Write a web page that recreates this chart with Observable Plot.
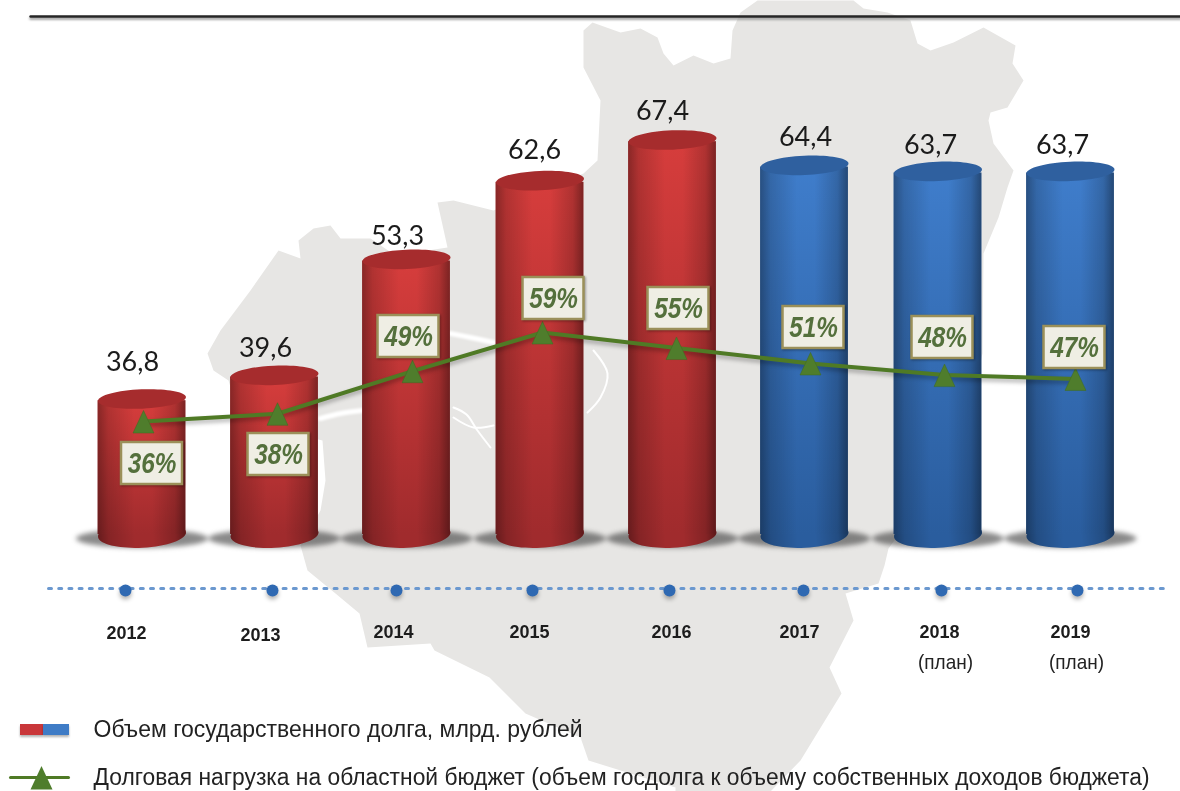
<!DOCTYPE html>
<html><head><meta charset="utf-8">
<script src="https://cdn.jsdelivr.net/npm/d3@7"></script>
<script src="https://cdn.jsdelivr.net/npm/@observablehq/plot@0.6"></script>
<style>
html,body{margin:0;padding:0;background:#fff;overflow:hidden}
svg{display:block;filter:blur(0.45px)}
</style></head><body>
<div id="chart"></div>
<script>
// ---- values
const years = [2012,2013,2014,2015,2016,2017,2018,2019];
const debt = [36.8,39.6,53.3,62.6,67.4,64.4,63.7,63.7];
const debtLabels = ["36,8","39,6","53,3","62,6","67,4","64,4","63,7","63,7"];
const burden = [36,38,49,59,55,51,48,47];
const yearLabels = ["2012","2013","2014","2015","2016","2017","2018","2019"];
const planLabel = "(план)";
const legendDebt = "Объем государственного долга, млрд. рублей";
const legendBurden = "Долговая нагрузка на областной бюджет (объем госдолга к объему собственных доходов бюджета)";

// ---- layout anchors, measured on the picture in pixels, converted to data units below
const barCenters = [141.5,274,406,539.5,672,804,937.5,1070];
const debtLabelAnchor = [[132,362],[265,348],[397,236],[534,150],[662,111],[805,137],[930,145],[1062,145]];
const lineXs = [143,277,412,542,676,810,944,1075];
const boxCenters = [[151.5,463],[278,454],[408,336],[553,298],[678,308],[813,327],[942,337],[1074,347]];
const tickXs = [125,272,396,532,669,803,941,1077];
const yearAnchor = [[126,633],[260,635],[393,632],[529,632],[671,632],[799,632],[939,632],[1070,632]];
const planAnchor = [[945,662],[1076,662]];
const mapOutline = [[583,30],[592,22],[620,32],[640,28],[657,37],[663,53],[673,65],[693,55],[713,63],[730,58],[732,30],[740,12],[757,0],[853,0],[863,8],[887,12],[910,20],[917,43],[930,50],[953,42],[983,27],[1015,45],[1012,63],[1023,80],[1007,107],[990,112],[988,120],[993,143],[1013,170],[1007,187],[998,217],[983,253],[982,353],[960,450],[888,548],[884,565],[878,583],[845,593],[853,620],[829,667],[841,693],[800,760],[770,791],[675,791],[675,787],[588,760],[580,737],[525,713],[489,677],[434,650],[430,643],[367,647],[359,613],[335,593],[307,570],[300,545],[320,510],[325,480],[322,440],[240,420],[228,380],[213,370],[207,353],[220,330],[250,290],[278,250],[300,258],[298,240],[313,228],[330,225],[340,238],[370,238],[395,255],[447,247],[437,202],[453,200],[493,210],[583,173],[597,160],[600,100],[583,67]];
const mapStripes = [
  [[320,418],[340,413],[362,410]],
  [[450,333],[470,337],[493,342]]
];
const mapHairlines = [
  [[453,407],[466,414],[477,430],[490,447]],
  [[453,417],[473,427],[493,425]],
  [[593,350],[607,373],[600,397],[587,412]]
];

// ---- pixel anchors -> data units
const W = 1180, H = 791;
const xd = d3.scaleLinear([141.5,1070],[2012,2019]);
const yd = d3.scaleLinear([139.5,398.5],[67.4,36.8]);
const pct = d3.scaleLinear([36,59],[yd(421),yd(332)]);  // right-hand percent axis on the value scale
const pic = ([x,y]) => ({x:xd(x),y:yd(y)});
const baseV = yd(534), halfW = 0.331;

const table = years.map((year,i)=>({year,v:debt[i],c:xd(barCenters[i]),planned:year>=2017}));
const past = table.filter(d=>!d.planned), plan = table.filter(d=>d.planned);

function oval(ratio){return {draw(c,size){
  const a=Math.sqrt(size/Math.PI),b=a*ratio,k=0.5523;
  c.moveTo(a,0);
  c.bezierCurveTo(a,k*b,k*a,b,0,b);
  c.bezierCurveTo(-k*a,b,-a,k*b,-a,0);
  c.bezierCurveTo(-a,-k*b,-k*a,-b,0,-b);
  c.bezierCurveTo(k*a,-b,a,-k*b,a,0);
  c.closePath();
}}}
const tri = {draw(c,size){
  const r=Math.sqrt(size/Math.PI);
  c.moveTo(0,-r*1.05);c.lineTo(r,r*1.1);c.lineTo(-r,r*1.1);c.closePath();
}};
// horizontal squeeze for narrow lettering, keeps the text as real text
const squeeze = k => (index,scales,values,dims,ctx,next) => {
  const g = next(index,scales,values,dims,ctx);
  d3.select(g).selectAll("text").attr("transform",function(){return (this.getAttribute("transform")||"")+` scale(${k},1)`});
  return g;
};

const defs = () => {
  const g = d3.create("svg:g");
  g.html(`<defs>
  <linearGradient id="redV" x1="0" y1="0" x2="0" y2="1"><stop offset="0" stop-color="#d63d3c"/><stop offset="1" stop-color="#a02b2d"/></linearGradient>
  <linearGradient id="blueV" x1="0" y1="0" x2="0" y2="1"><stop offset="0" stop-color="#3f7dcb"/><stop offset="1" stop-color="#2a5d9e"/></linearGradient>
  <linearGradient id="edge" x1="0" y1="0" x2="1" y2="0">
    <stop offset="0" stop-color="#000" stop-opacity=".36"/><stop offset=".12" stop-color="#000" stop-opacity=".17"/>
    <stop offset=".42" stop-color="#000" stop-opacity="0"/><stop offset=".62" stop-color="#000" stop-opacity="0"/>
    <stop offset=".88" stop-color="#000" stop-opacity=".18"/><stop offset="1" stop-color="#000" stop-opacity=".42"/>
  </linearGradient></defs>`);
  return g.node();
};

function cylinders(rows, body, base, cap){
  const common = {x1:d=>d.c-halfW,x2:d=>d.c+halfW,y1:()=>baseV,y2:d=>d.v-0.2};
  return [
    Plot.dot(rows,{x:"c",y:()=>baseV,r:44,symbol:oval(0.3),fill:base,stroke:"none",rotate:-3}),
    Plot.dot(rows,{x:"c",y:()=>baseV,r:44,symbol:oval(0.3),fill:"url(#edge)",stroke:"none",rotate:-3}),
    Plot.rect(rows,{...common,fill:body,inset:0}),
    Plot.rect(rows,{...common,fill:"url(#edge)",inset:0}),
    Plot.dot(rows,{x:"c",y:d=>d.v,r:44,symbol:oval(0.22),fill:cap,stroke:"none",rotate:-2.5})
  ];
}

const lineData = years.map((y,i)=>({x:xd(lineXs[i]),y:pct(burden[i])}));
const boxData = burden.map((p,i)=>{const q=pic(boxCenters[i]);return {...q,t:p+"%"}});
const boxW = 30.5/132.7, boxH = 21/8.464;
const tickData = tickXs.map(x=>pic([x,590]));
const legendLine = [[10,777],[68,777]].map(pic);

const bold = {fontFamily:"'Liberation Sans',Arial,sans-serif",fontWeight:"bold",fill:"#1d1d1d",fontSize:18};

const chart = Plot.plot({
  width:W,height:H,margin:0,
  x:{domain:[xd(0),xd(W)],range:[0,W],axis:null},
  y:{domain:[yd(H),yd(0)],range:[H,0],axis:null},
  style:{background:"#fff",overflow:"visible"},
  marks:[
    defs,
    // region silhouette behind the chart
    Plot.line(mapOutline.map(pic),{x:"x",y:"y",fill:"#e7e6e4",stroke:"none"}),
    ...mapStripes.map(r=>Plot.line(r.map(pic),{x:"x",y:"y",stroke:"#fff",strokeWidth:5,curve:"catmull-rom",imageFilter:"blur(1px)"})),
    ...mapHairlines.map(r=>Plot.line(r.map(pic),{x:"x",y:"y",stroke:"#fff",strokeWidth:2,curve:"catmull-rom"})),
    // top rule
    Plot.line([[30,18],[1180,18]].map(pic),{x:"x",y:"y",stroke:"#999",strokeWidth:2.5,imageFilter:"blur(1px)"}),
    Plot.line([[30,16],[1180,16]].map(pic),{x:"x",y:"y",stroke:"#262626",strokeWidth:2.4}),
    // base shadows
    Plot.dot(table,{x:"c",y:()=>yd(538),r:66,symbol:oval(0.14),fill:"#3c3c3c",fillOpacity:.6,stroke:"none",imageFilter:"blur(2.5px)"}),
    ...cylinders(past,"url(#redV)","#a02b2d","#a62c2d"),
    ...cylinders(plan,"url(#blueV)","#2a5d9e","#2f609f"),
    // value labels
    Plot.text(debtLabels,{x:(d,i)=>xd(debtLabelAnchor[i][0]),y:(d,i)=>yd(debtLabelAnchor[i][1]),text:d=>d,fontFamily:"Lato,sans-serif",fontSize:27,fill:"#1b1b1b"}),
    // burden line
    Plot.line(lineData,{x:"x",y:"y",stroke:"#000",strokeOpacity:.3,strokeWidth:4,dy:3,imageFilter:"blur(2px)"}),
    Plot.line(lineData,{x:"x",y:"y",stroke:"#4f7a25",strokeWidth:4,strokeLinejoin:"round"}),
    Plot.dot(lineData,{x:"x",y:"y",r:10.5,symbol:tri,fill:"#4f7d2c",stroke:"#3f6a22",strokeWidth:.5}),
    // percent boxes
    Plot.rect(boxData,{x1:d=>d.x-boxW,x2:d=>d.x+boxW,y1:d=>d.y-boxH,y2:d=>d.y+boxH,fill:"#efeee4",stroke:"#9b9059",strokeWidth:2.5,imageFilter:"drop-shadow(1px 1px 1px rgba(0,0,0,.35))"}),
    Plot.text(boxData,{x:"x",y:"y",text:"t",fontFamily:"'Liberation Sans',sans-serif",fontWeight:"bold",fontStyle:"italic",fontSize:29,fill:"#54703c",render:squeeze(0.84)}),
    // dotted year axis
    Plot.line([[48,588],[1168,588]].map(pic),{x:"x",y:"y",stroke:"#6b98cf",strokeWidth:3,strokeDasharray:"3 7.2"}),
    Plot.dot(tickData,{x:"x",y:d=>d.y,r:6,fill:"#000",fillOpacity:.3,stroke:"none",dy:3,imageFilter:"blur(2px)"}),
    Plot.dot(tickData,{x:"x",y:"y",r:6,fill:"#2f69b2",stroke:"none"}),
    Plot.text(yearLabels,{x:(d,i)=>xd(yearAnchor[i][0]),y:(d,i)=>yd(yearAnchor[i][1]),text:d=>d,...bold}),
    Plot.text(planAnchor,{x:d=>xd(d[0]),y:d=>yd(d[1]),text:()=>planLabel,fontFamily:"'Liberation Sans',sans-serif",fontSize:20,fill:"#222",render:squeeze(0.95)}),
    // legend
    Plot.rect([{a:20,b:43}],{x1:d=>xd(d.a),x2:d=>xd(d.b),y1:()=>yd(735),y2:()=>yd(724),fill:"#c9373a",imageFilter:"drop-shadow(0 2px 1px rgba(0,0,0,.3))"}),
    Plot.rect([{a:43,b:69}],{x1:d=>xd(d.a),x2:d=>xd(d.b),y1:()=>yd(735),y2:()=>yd(724),fill:"#3f7cc6",imageFilter:"drop-shadow(0 2px 1px rgba(0,0,0,.3))"}),
    Plot.text([legendDebt],{x:()=>xd(93),y:()=>yd(729),text:d=>d,textAnchor:"start",fontFamily:"'Liberation Sans',sans-serif",fontSize:24,fill:"#222",render:squeeze(0.958)}),
    Plot.line(legendLine,{x:"x",y:"y",stroke:"#4f7a25",strokeWidth:3}),
    Plot.dot([pic([41,777])],{x:"x",y:"y",r:11,symbol:tri,fill:"#4f7d2c",stroke:"none"}),
    Plot.text([legendBurden],{x:()=>xd(93),y:()=>yd(777),text:d=>d,textAnchor:"start",fontFamily:"'Liberation Sans',sans-serif",fontSize:24,fill:"#222",render:squeeze(0.951)})
  ]
});
document.getElementById("chart").append(chart);
</script>
</body></html>
